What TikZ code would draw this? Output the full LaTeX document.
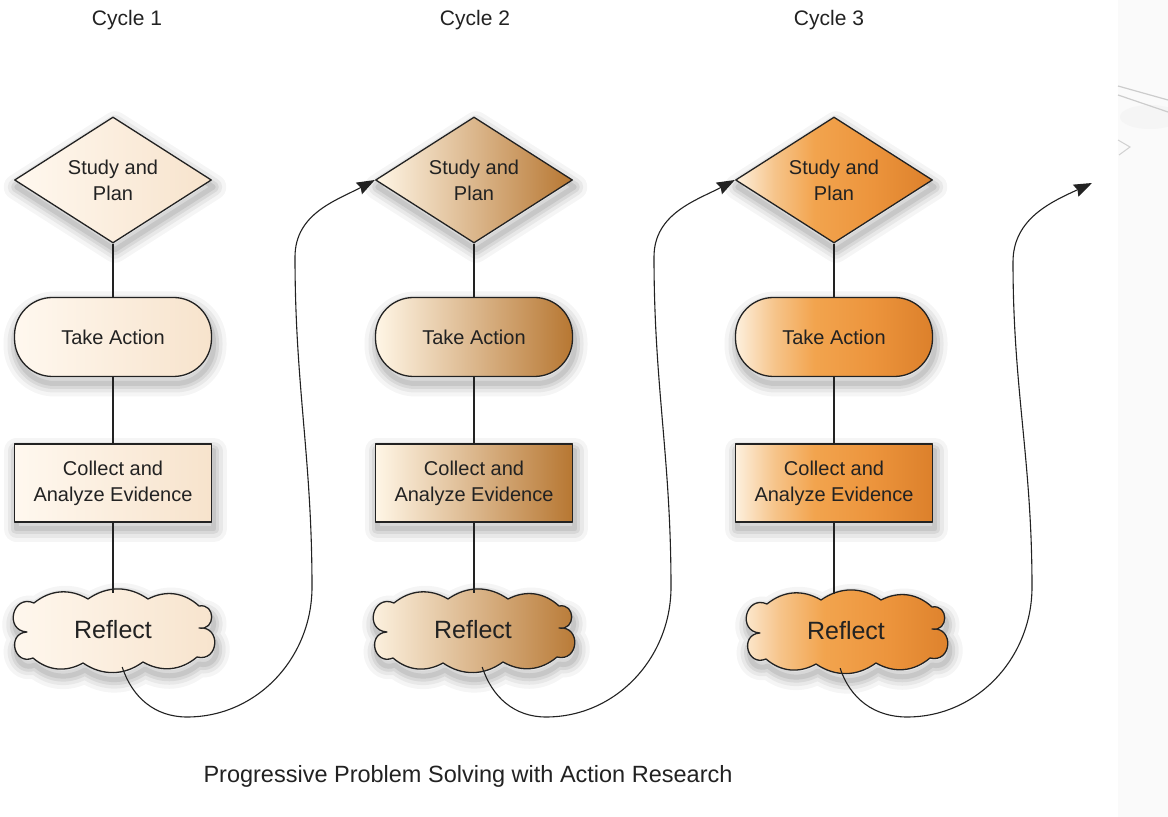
\documentclass[tikz,border=0pt]{standalone}
\usepackage{fontspec}
\setmainfont{Liberation Sans}
\usetikzlibrary{shapes.geometric,arrows.meta}

\definecolor{inkc}{HTML}{222222}
\definecolor{cream1L}{HTML}{FFF8EF}
\definecolor{cream1R}{HTML}{F7E3CC}
\definecolor{tan2L}{HTML}{FFF6E6}
\definecolor{tan2M}{HTML}{E8C086}
\definecolor{tan2R}{HTML}{B77732}
\definecolor{or3A}{HTML}{FDF0DE}
\definecolor{or3B}{HTML}{F6C48A}
\definecolor{or3C}{HTML}{F2A44E}
\definecolor{or3D}{HTML}{EC943C}
\definecolor{or3E}{HTML}{DC802B}

% left-to-right orange ramp (the path spans 25bp..75bp of it)
\pgfdeclarehorizontalshading{orangeramp}{100bp}{%
  color(0bp)=(or3A); color(25bp)=(or3A); color(35bp)=(or3B); color(45bp)=(or3C);
  color(60bp)=(or3D); color(75bp)=(or3E); color(100bp)=(or3E)}

\tikzset{
  % soft shadow built from a few translucent strokes of the outline
  softshadow/.style={
    preaction={draw=black, opacity=0.04, line width=26pt, line join=round,
      transform canvas={xshift=2pt, yshift=-7pt}},
    preaction={draw=black, opacity=0.05, line width=18pt, line join=round,
      transform canvas={xshift=2pt, yshift=-7pt}},
    preaction={draw=black, opacity=0.065, line width=11pt, line join=round,
      transform canvas={xshift=2pt, yshift=-7pt}},
    preaction={draw=black, opacity=0.08, line width=5pt, line join=round,
      transform canvas={xshift=2pt, yshift=-7pt}}},
  outline/.style={softshadow, draw=inkc, line width=1.3pt, line join=round},
  stage/.style={outline, text=inkc, align=center, inner sep=0pt,
    font=\fontsize{20}{26}\selectfont},
  tone1/.style={left color=cream1L, right color=cream1R},
  tone2/.style={left color=tan2L, middle color=tan2M, right color=tan2R},
  tone3/.style={shading=orangeramp},
  planbox/.style={stage, diamond, aspect=1.56, minimum width=197pt, minimum height=126pt},
  actbox/.style={stage, rectangle, rounded corners=38pt, minimum width=197pt, minimum height=79pt},
  evidbox/.style={stage, rectangle, minimum width=197pt, minimum height=78pt},
  refltext/.style={ellipse, inner sep=0pt, minimum width=200pt, minimum height=74pt,
    text=inkc, font=\fontsize{25}{30}\selectfont},
  title/.style={text=inkc, font=\fontsize{21}{25}\selectfont},
  link/.style={draw=inkc, line width=1.1pt},
  loopback/.style={link, -{Stealth[length=18pt, width=13pt, inset=2pt]}},
}

% cloud outline around the origin: two puffs on each side, three on top and bottom
\newcommand\cloudat[2]{%
  \path[outline, #2, shift={#1}]
    (-86,-2) to[bend left=100, looseness=2] (-79,27)
    to[bend left=35] (-25,31) to[bend left=35] (35,31) to[bend left=35] (86,24)
    to[bend left=100, looseness=2] (86,2) to[bend left=100, looseness=2] (84,-27)
    to[bend left=35] (30,-32) to[bend left=35] (-30,-33) to[bend left=35] (-80,-28)
    to[bend left=100, looseness=2] cycle;}

\begin{document}
\begin{tikzpicture}[x=1pt, y=1pt]
  \useasboundingbox (0,0) rectangle (1168,817);
  \fill[white] (0,0) rectangle (1168,817);

  % faint strip at the right edge
  \fill[black!2] (1118,0) rectangle (1168,817);
  \fill[black!4] (1150,700) ellipse (30 and 12);
  \draw[black!20, line width=1.2pt] (1118,731) -- (1168,717);
  \draw[black!20, line width=1.2pt] (1118,722) -- (1168,705);
  \draw[black!18, line width=1pt] (1118,677) -- (1130,670) -- (1119,662);

  % cycle headings
  \node[title] (h1) at (127,797) {Cycle 1};
  \node[title] (h2) at (475,797) {Cycle 2};
  \node[title] (h3) at (829,797) {Cycle 3};

  % cycle 1
  \node[planbox, tone1] (p1) at (113,637) {Study and\\Plan};
  \node[actbox, tone1]  (a1) at (113,480) {Take Action};
  \node[evidbox, tone1] (e1) at (113,334) {Collect and\\Analyze Evidence};
  \cloudat{(113,187)}{tone1}
  \node[refltext] (r1) at (113,187) {Reflect};

  % cycle 2
  \node[planbox, tone2] (p2) at (474,637) {Study and\\Plan};
  \node[actbox, tone2]  (a2) at (474,480) {Take Action};
  \node[evidbox, tone2] (e2) at (474,334) {Collect and\\Analyze Evidence};
  \cloudat{(473,187)}{tone2}
  \node[refltext] (r2) at (473,187) {Reflect};

  % cycle 3
  \node[planbox, tone3] (p3) at (834,637) {Study and\\Plan};
  \node[actbox, tone3]  (a3) at (834,480) {Take Action};
  \node[evidbox, tone3] (e3) at (834,334) {Collect and\\Analyze Evidence};
  \cloudat{(846,186)}{tone3}
  \node[refltext] (r3) at (846,186) {Reflect};

  % vertical links inside each cycle
  \foreach \k in {1,2,3} {
    \draw[link] (p\k.south) -- (a\k.north);
    \draw[link] (a\k.south) -- (e\k.north);
    \draw[link] (e\k.south) -- (e\k.south |- r\k.north);
  }

  % loops from one cycle into the next
  \coordinate (next) at (1092,634);
  \draw[loopback] (r1.-76) to[out=-72, in=180] (187,100) to[out=0, in=-90] (312,230)
    to[out=90, in=-90] (295,560) to[out=90, in=208] (p2.west);
  \draw[loopback] (r2.-76) to[out=-72, in=180] (546,100) to[out=0, in=-90] (671,230)
    to[out=90, in=-90] (654,560) to[out=90, in=208] (p3.west);
  \draw[loopback] (r3.-99) to[out=-72, in=180] (907,100) to[out=0, in=-90] (1032,230)
    to[out=90, in=-90] (1013,555) to[out=90, in=205] (next);

  % caption
  \node[title, font=\fontsize{23.5}{28}\selectfont] (cap) at (468,41)
    {Progressive Problem Solving with Action Research};
\end{tikzpicture}
\end{document}
